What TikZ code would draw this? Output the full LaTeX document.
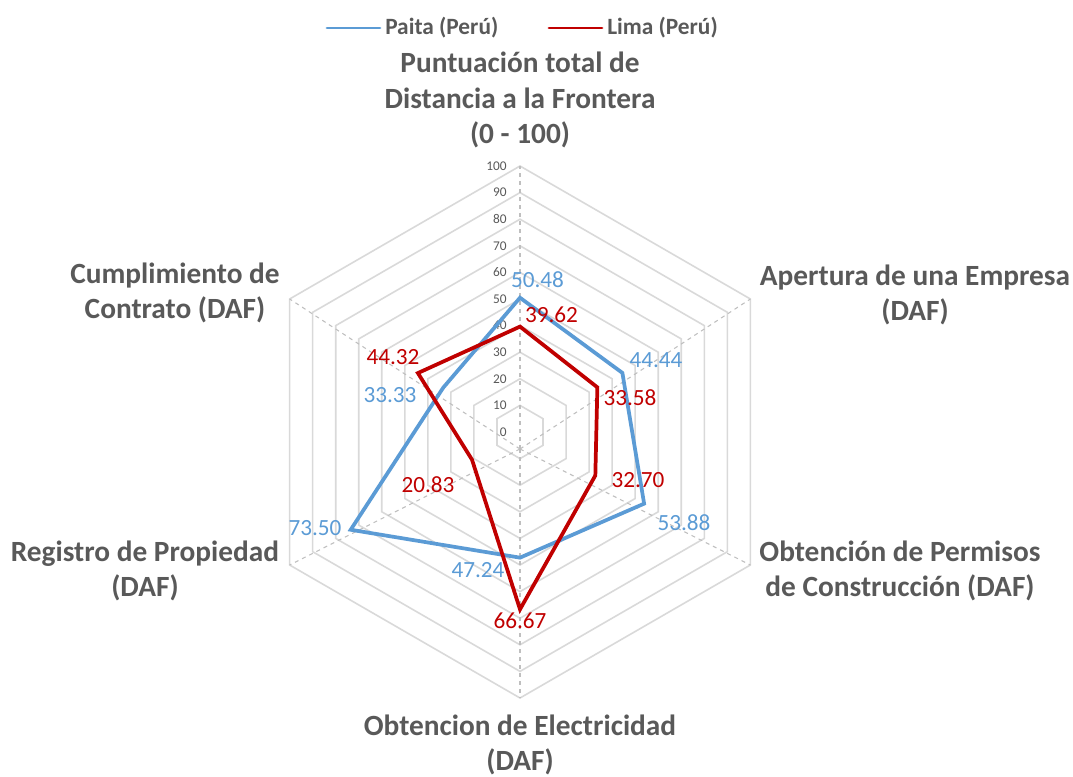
\documentclass[tikz,border=0pt]{standalone}
\usepackage{fontspec}
\setmainfont{Carlito}
\definecolor{paita}{HTML}{5B9BD5}
\definecolor{lima}{HTML}{C00000}
\definecolor{gridgray}{HTML}{D9D9D9}
\definecolor{spokegray}{HTML}{BFBFBF}
\definecolor{textgray}{HTML}{595959}

\begin{document}
\begin{tikzpicture}[x=0.75pt,y=0.75pt]

\newcommand\U{2.66}
\newcommand\CX{520}
\newcommand\CY{344}

\tikzset{
  axislabel/.style={font=\fontsize{22}{26.6}\selectfont\bfseries, text=textgray, align=center, inner sep=0pt},
  ticklabel/.style={font=\fontsize{10}{12}\selectfont, text=textgray, anchor=east, inner sep=0pt},
  paitalabel/.style={font=\fontsize{17.4}{20}\selectfont, text=paita, inner sep=0pt},
  limalabel/.style={font=\fontsize{17.4}{20}\selectfont, text=lima, inner sep=0pt},
  legendlabel/.style={font=\fontsize{17.5}{20}\selectfont\bfseries, text=textgray, anchor=base west, inner sep=0pt},
  paitaline/.style={paita, line width=2.8pt, line join=miter},
  limaline/.style={lima, line width=2.8pt, line join=miter},
}

\useasboundingbox (0,0) rectangle (1073,776);

%% grid
\begin{scope}[shift={(\CX,\CY)}]
\foreach \r in {10,20,...,100}
  \draw[gridgray, line width=1.2pt] (90:{\r*\U}) -- (30:{\r*\U}) -- (-30:{\r*\U})
  -- (-90:{\r*\U}) -- (210:{\r*\U}) -- (150:{\r*\U}) -- cycle;
\coordinate (hub) at (0,-17);
\foreach \a in {90,30,-30,-90,210,150}
  \draw[spokegray, dashed, line width=0.8pt] (hub) -- (\a:{100*\U});
\foreach \v in {0,10,...,100}
  \node[ticklabel] (tick\v) at (-13,{\v*\U}) {\v};

%% series
\draw[paitaline] (90:{50.48*\U}) -- (30:{44.44*\U}) -- (-30:{53.88*\U})
  -- (-90:{47.24*\U}) -- (210:{73.50*\U}) -- (150:{33.33*\U}) -- cycle;
\draw[limaline] (90:{39.62*\U}) -- (30:{33.58*\U}) -- (-30:{32.70*\U})
  -- (-90:{66.67*\U}) -- (210:{20.83*\U}) -- (150:{44.32*\U}) -- cycle;
\end{scope}

%% data labels
\node[paitalabel] (pTop) at (537.5,496.5) {50.48};
\node[limalabel]  (lTop) at (551.5,461) {39.62};
\node[paitalabel] (pApe) at (656,416) {44.44};
\node[limalabel]  (lApe) at (630,378) {33.58};
\node[limalabel]  (lPer) at (638,296) {32.70};
\node[paitalabel] (pPer) at (684,253) {53.88};
\node[paitalabel] (pEle) at (478,206) {47.24};
\node[limalabel]  (lEle) at (520,155) {66.67};
\node[paitalabel] (pReg) at (315,248) {73.50};
\node[limalabel]  (lReg) at (428,291) {20.83};
\node[limalabel]  (lCum) at (393,419) {44.32};
\node[paitalabel] (pCum) at (390,381) {33.33};

%% axis labels
\node[axislabel] (axTop) at (520,676) {Puntuación total de\\Distancia a la Frontera\\(0 - 100)};
\node[axislabel] (axApe) at (915,481) {Apertura de una Empresa\\(DAF)};
\node[axislabel] (axPer) at (900,205) {Obtención de Permisos\\de Construcción (DAF)};
\node[axislabel] (axEle) at (520,31) {Obtencion de Electricidad\\(DAF)};
\node[axislabel] (axReg) at (145,205) {Registro de Propiedad\\(DAF)};
\node[axislabel] (axCum) at (175,483) {Cumplimiento de\\Contrato (DAF)};

%% legend
\coordinate (legPaitaA) at (327,748);
\coordinate (legPaitaB) at (380,748);
\coordinate (legLimaA) at (549,748);
\coordinate (legLimaB) at (602,748);
\draw[paita, line width=2.2pt, line cap=round] (legPaitaA) -- (legPaitaB);
\node[legendlabel] (legPaita) at (385,741) {Paita (Perú)};
\draw[lima, line width=2.2pt, line cap=round] (legLimaA) -- (legLimaB);
\node[legendlabel] (legLima) at (607,741) {Lima (Perú)};

\end{tikzpicture}
\end{document}
